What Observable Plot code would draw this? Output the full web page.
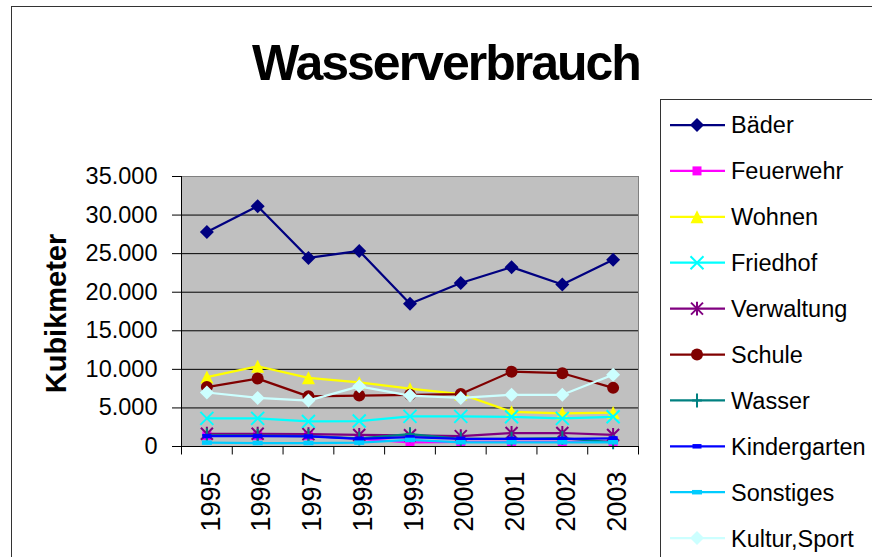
<!DOCTYPE html>
<html><head><meta charset="utf-8">
<script src="https://cdn.jsdelivr.net/npm/d3@7"></script>
<script src="https://cdn.jsdelivr.net/npm/@observablehq/plot@0.6"></script>
<style>
html,body{margin:0;padding:0;background:#fff;width:872px;height:557px;overflow:hidden;font-family:"Liberation Sans",Arial,sans-serif;}
#wrap{position:relative;width:872px;height:557px;overflow:hidden;}
#border{position:absolute;left:11px;top:6px;width:900px;height:600px;border:1px solid #333;}
#chart{position:absolute;left:0;top:0;}
#title{position:absolute;left:0;width:892px;top:38px;text-align:center;font-size:50px;font-weight:bold;line-height:50px;letter-spacing:-2px;color:#000;}
#legend{position:absolute;left:660px;top:99px;width:260px;height:520px;border:1px solid #333;background:#fff;}
#legsvg{position:absolute;left:0;top:0;}
</style></head><body>
<div id="wrap"><div id="border"></div><div id="chart"></div><div id="title">Wasserverbrauch</div><div id="legend"></div></div>
<script>
// ---- data ----
const years = [1995, 1996, 1997, 1998, 1999, 2000, 2001, 2002, 2003];
const baeder       = [27800, 31150, 24450, 25350, 18500, 21200, 23250, 21000, 24200];
const feuerwehr    = [1400, 1400, 1400, 1000, 550, 600, 600, 600, 650];
const wohnen       = [9000, 10400, 8900, 8300, 7500, 6800, 4500, 4300, 4400];
const friedhof     = [3650, 3650, 3250, 3300, 3900, 3900, 3850, 3650, 3850];
const verwaltung   = [1650, 1650, 1600, 1500, 1450, 1350, 1750, 1750, 1500];
const schule       = [7700, 8800, 6500, 6600, 6700, 6800, 9700, 9500, 7600];
const wasser       = [1450, 1400, 1350, 1050, 1600, 1000, 1000, 1100, 550];
const kindergarten = [1350, 1350, 1300, 1000, 1200, 1000, 1000, 1000, 1050];
const sonstiges    = [500, 450, 450, 500, 850, 550, 550, 550, 550];
const kulturSport  = [7000, 6300, 5950, 7800, 6600, 6300, 6700, 6700, 9300];
const seriesNames = ["Bäder","Feuerwehr","Wohnen","Friedhof","Verwaltung","Schule","Wasser","Kindergarten","Sonstiges","Kultur,Sport"];
const seriesValues = [baeder, feuerwehr, wohnen, friedhof, verwaltung, schule, wasser, kindergarten, sonstiges, kulturSport];
const yTicks = [0, 5000, 10000, 15000, 20000, 25000, 30000, 35000];
const title = "Wasserverbrauch";
const yLabel = "Kubikmeter";

// ---- styles ----
const R = s => Math.sqrt(s / Math.PI);
const sym = {
  diamond: {draw(c, s) {const r = R(s); c.moveTo(0, -r); c.lineTo(r, 0); c.lineTo(0, r); c.lineTo(-r, 0); c.closePath();}},
  square: {draw(c, s) {const r = R(s); c.rect(-r, -r, 2 * r, 2 * r);}},
  triangle: {draw(c, s) {const r = R(s); c.moveTo(0, -r); c.lineTo(r, r); c.lineTo(-r, r); c.closePath();}},
  times: {draw(c, s) {const r = R(s); c.moveTo(-r, -r); c.lineTo(r, r); c.moveTo(-r, r); c.lineTo(r, -r);}},
  asterisk: {draw(c, s) {const r = R(s); c.moveTo(-r, -r); c.lineTo(r, r); c.moveTo(-r, r); c.lineTo(r, -r); c.moveTo(0, -r * 1.15); c.lineTo(0, r * 1.15);}},
  circle: {draw(c, s) {const r = R(s); c.moveTo(r, 0); c.arc(0, 0, r, 0, 2 * Math.PI);}},
  plus: {draw(c, s) {const r = R(s); c.moveTo(-r * 0.7, 0); c.lineTo(r * 0.7, 0); c.moveTo(0, -r); c.lineTo(0, r);}},
  dashS: {draw(c, s) {const r = R(s); c.rect(-r, -r * 0.5, 2 * r, r);}},
  dashL: {draw(c, s) {const r = R(s); c.rect(-r, -r * 0.45, 2 * r, r * 0.9);}}
};
const styles = [
  {color: "#000080", symbol: sym.diamond, r: 7, filled: true},
  {color: "#FF00FF", symbol: sym.square, r: 4.5, filled: true},
  {color: "#FFFF00", symbol: sym.triangle, r: 6.5, filled: true},
  {color: "#00FFFF", symbol: sym.times, r: 6.5, filled: false},
  {color: "#800080", symbol: sym.asterisk, r: 6, filled: false},
  {color: "#800000", symbol: sym.circle, r: 6, filled: true},
  {color: "#008080", symbol: sym.plus, r: 7, filled: false},
  {color: "#0000FF", symbol: sym.dashS, r: 4.5, filled: true},
  {color: "#00CCFF", symbol: sym.dashL, r: 5, filled: true},
  {color: "#CCFFFF", symbol: sym.diamond, r: 7, filled: true}
];

const deLocale = d3.formatLocale({decimal: ",", thousands: ".", grouping: [3], currency: ["", " €"]});
const fmt = deLocale.format(",");

const boundaries = [...years.map(y => y - 0.5), years[years.length - 1] + 0.5];

const seriesMarks = seriesNames.flatMap((name, i) => {
  const data = years.map((year, j) => ({year, value: seriesValues[i][j]}));
  const st = styles[i];
  return [
    Plot.line(data, {x: "year", y: "value", stroke: st.color, strokeWidth: 2.25}),
    Plot.dot(data, {x: "year", y: "value", symbol: st.symbol, r: st.r,
      fill: st.filled ? st.color : "none", stroke: st.filled ? "none" : st.color, strokeWidth: 2})
  ];
});

const chart = Plot.plot({
  width: 872, height: 557,
  marginTop: 176, marginBottom: 111, marginLeft: 181, marginRight: 234,
  style: {background: "transparent", fontFamily: "'Liberation Sans', Arial, sans-serif", color: "#000", overflow: "visible"},
  x: {type: "linear", domain: [years[0] - 0.5, years[years.length - 1] + 0.5], label: null},
  y: {domain: [0, 35000], label: null},
  marks: [
    Plot.frame({fill: "#c0c0c0", stroke: "#808080"}),
    Plot.ruleY(yTicks.filter(v => v > 0 && v < 35000), {stroke: "#000", strokeWidth: 1}),
    ...seriesMarks,
    Plot.ruleY([0], {stroke: "#000", strokeWidth: 1}),
    Plot.ruleX([boundaries[0]], {stroke: "#000", strokeWidth: 1}),
    Plot.ruleX(boundaries, {y1: 0, y2: -1100, stroke: "#000", strokeWidth: 1}),
    Plot.axisY(yTicks, {tickSize: 9, tickPadding: 15, fontSize: 23.5, tickFormat: fmt, label: null}),
    Plot.axisX(years, {tickRotate: -90, tickSize: 0, tickPadding: 25, fontSize: 27, tickFormat: d => String(d), label: null, dx: 4}),
    Plot.text([yLabel], {frameAnchor: "left", textAnchor: "middle", text: d => d, rotate: -90, dx: -125, dy: 2, fontSize: 29, fontWeight: "bold", fill: "#000"})
  ]
});
document.getElementById("chart").appendChild(chart);
document.getElementById("title").textContent = title;

// ---- legend ----
const lg = d3.select("#wrap").append("svg").attr("id", "legsvg").attr("width", 872).attr("height", 557)
  .style("font-family", "'Liberation Sans', Arial, sans-serif");
seriesNames.forEach((name, i) => {
  const y = 125 + i * 45.9;
  const st = styles[i];
  lg.append("line").attr("x1", 670).attr("x2", 725).attr("y1", y).attr("y2", y)
    .attr("stroke", st.color).attr("stroke-width", 2.25);
  lg.append("path").attr("d", d3.symbol(st.symbol, Math.PI * st.r * st.r)())
    .attr("transform", `translate(697,${y})`)
    .attr("fill", st.filled ? st.color : "none").attr("stroke", st.filled ? "none" : st.color).attr("stroke-width", 2);
  lg.append("text").attr("x", 731).attr("y", y + 8.4).attr("font-size", 23.5).attr("fill", "#000").text(name);
});
</script>
</body></html>
